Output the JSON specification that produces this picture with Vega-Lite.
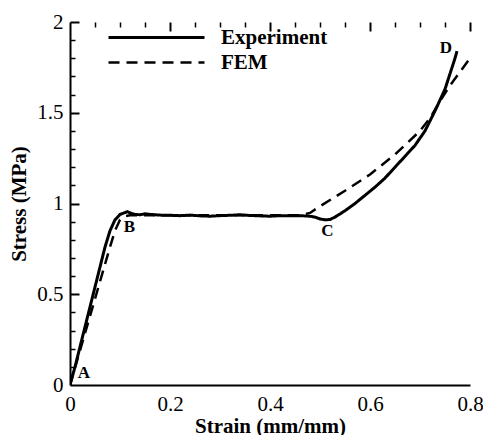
{
  "$schema": "https://vega.github.io/schema/vega-lite/v6.json",
  "width": 400,
  "height": 363,
  "autosize": {"type": "none"},
  "padding": {"left": 70, "top": 22, "right": 13, "bottom": 50},
  "config": {
    "view": {"stroke": null},
    "axis": {"grid": false}
  },
  "datasets": {
    "curves": [
      {"strain": 0, "stress": 0, "series": "Experiment"},
      {"strain": 0.01, "stress": 0.1, "series": "Experiment"},
      {"strain": 0.02, "stress": 0.21, "series": "Experiment"},
      {"strain": 0.03, "stress": 0.32, "series": "Experiment"},
      {"strain": 0.04, "stress": 0.43, "series": "Experiment"},
      {"strain": 0.05, "stress": 0.54, "series": "Experiment"},
      {"strain": 0.06, "stress": 0.65, "series": "Experiment"},
      {"strain": 0.07, "stress": 0.76, "series": "Experiment"},
      {"strain": 0.08, "stress": 0.85, "series": "Experiment"},
      {"strain": 0.09, "stress": 0.91, "series": "Experiment"},
      {"strain": 0.1, "stress": 0.94, "series": "Experiment"},
      {"strain": 0.11, "stress": 0.95, "series": "Experiment"},
      {"strain": 0.115, "stress": 0.955, "series": "Experiment"},
      {"strain": 0.12, "stress": 0.948, "series": "Experiment"},
      {"strain": 0.13, "stress": 0.94, "series": "Experiment"},
      {"strain": 0.14, "stress": 0.938, "series": "Experiment"},
      {"strain": 0.15, "stress": 0.943, "series": "Experiment"},
      {"strain": 0.16, "stress": 0.94, "series": "Experiment"},
      {"strain": 0.18, "stress": 0.936, "series": "Experiment"},
      {"strain": 0.2, "stress": 0.935, "series": "Experiment"},
      {"strain": 0.22, "stress": 0.933, "series": "Experiment"},
      {"strain": 0.24, "stress": 0.936, "series": "Experiment"},
      {"strain": 0.26, "stress": 0.932, "series": "Experiment"},
      {"strain": 0.28, "stress": 0.93, "series": "Experiment"},
      {"strain": 0.3, "stress": 0.933, "series": "Experiment"},
      {"strain": 0.32, "stress": 0.935, "series": "Experiment"},
      {"strain": 0.34, "stress": 0.938, "series": "Experiment"},
      {"strain": 0.36, "stress": 0.934, "series": "Experiment"},
      {"strain": 0.38, "stress": 0.932, "series": "Experiment"},
      {"strain": 0.4, "stress": 0.93, "series": "Experiment"},
      {"strain": 0.42, "stress": 0.933, "series": "Experiment"},
      {"strain": 0.44, "stress": 0.932, "series": "Experiment"},
      {"strain": 0.46, "stress": 0.933, "series": "Experiment"},
      {"strain": 0.48, "stress": 0.93, "series": "Experiment"},
      {"strain": 0.49, "stress": 0.925, "series": "Experiment"},
      {"strain": 0.5, "stress": 0.915, "series": "Experiment"},
      {"strain": 0.51, "stress": 0.91, "series": "Experiment"},
      {"strain": 0.52, "stress": 0.912, "series": "Experiment"},
      {"strain": 0.53, "stress": 0.925, "series": "Experiment"},
      {"strain": 0.55, "stress": 0.96, "series": "Experiment"},
      {"strain": 0.57, "stress": 1.0, "series": "Experiment"},
      {"strain": 0.59, "stress": 1.045, "series": "Experiment"},
      {"strain": 0.61, "stress": 1.09, "series": "Experiment"},
      {"strain": 0.63, "stress": 1.14, "series": "Experiment"},
      {"strain": 0.65, "stress": 1.2, "series": "Experiment"},
      {"strain": 0.67, "stress": 1.26, "series": "Experiment"},
      {"strain": 0.69, "stress": 1.32, "series": "Experiment"},
      {"strain": 0.71, "stress": 1.4, "series": "Experiment"},
      {"strain": 0.73, "stress": 1.51, "series": "Experiment"},
      {"strain": 0.75, "stress": 1.63, "series": "Experiment"},
      {"strain": 0.77, "stress": 1.8, "series": "Experiment"},
      {"strain": 0.774, "stress": 1.84, "series": "Experiment"},
      {"strain": 0, "stress": 0, "series": "FEM"},
      {"strain": 0.01, "stress": 0.095, "series": "FEM"},
      {"strain": 0.02, "stress": 0.19, "series": "FEM"},
      {"strain": 0.03, "stress": 0.285, "series": "FEM"},
      {"strain": 0.04, "stress": 0.38, "series": "FEM"},
      {"strain": 0.05, "stress": 0.475, "series": "FEM"},
      {"strain": 0.06, "stress": 0.57, "series": "FEM"},
      {"strain": 0.07, "stress": 0.665, "series": "FEM"},
      {"strain": 0.08, "stress": 0.76, "series": "FEM"},
      {"strain": 0.09, "stress": 0.85, "series": "FEM"},
      {"strain": 0.1, "stress": 0.91, "series": "FEM"},
      {"strain": 0.11, "stress": 0.93, "series": "FEM"},
      {"strain": 0.12, "stress": 0.935, "series": "FEM"},
      {"strain": 0.3, "stress": 0.935, "series": "FEM"},
      {"strain": 0.46, "stress": 0.935, "series": "FEM"},
      {"strain": 0.48, "stress": 0.948, "series": "FEM"},
      {"strain": 0.5, "stress": 0.985, "series": "FEM"},
      {"strain": 0.55, "stress": 1.07, "series": "FEM"},
      {"strain": 0.6, "stress": 1.16, "series": "FEM"},
      {"strain": 0.65, "stress": 1.27, "series": "FEM"},
      {"strain": 0.7, "stress": 1.4, "series": "FEM"},
      {"strain": 0.72, "stress": 1.47, "series": "FEM"},
      {"strain": 0.74, "stress": 1.565, "series": "FEM"},
      {"strain": 0.76, "stress": 1.65, "series": "FEM"},
      {"strain": 0.78, "stress": 1.725, "series": "FEM"},
      {"strain": 0.8, "stress": 1.8, "series": "FEM"}
    ],
    "points": [
      {"strain": 0.028, "stress": 0.066, "label": "A"},
      {"strain": 0.119, "stress": 0.868, "label": "B"},
      {"strain": 0.515, "stress": 0.848, "label": "C"},
      {"strain": 0.752, "stress": 1.854, "label": "D"}
    ]
  },
  "layer": [
    {
      "data": {"name": "points"},
      "mark": {"type": "point", "opacity": 0},
      "encoding": {
        "x": {"field": "strain", "type": "quantitative", "scale": {"domain": [0, 0.8], "nice": false},
          "axis": {"orient": "bottom", "values": [0.05, 0.1, 0.15, 0.25, 0.3, 0.35, 0.45, 0.5, 0.55, 0.65, 0.7, 0.75], "labels": false, "domain": false, "ticks": false, "grid": true, "gridColor": "black", "gridOpacity": 1, "gridWidth": 1.5, "gridDash": [5, 1000], "title": null}},
        "y": {"field": "stress", "type": "quantitative", "scale": {"domain": [0, 2], "nice": false},
          "axis": {"orient": "left", "values": [0.1, 0.2, 0.3, 0.4, 0.6, 0.7, 0.8, 0.9, 1.1, 1.2, 1.3, 1.4, 1.6, 1.7, 1.8, 1.9], "labels": false, "domain": false, "ticks": false, "grid": true, "gridColor": "black", "gridOpacity": 1, "gridWidth": 1.5, "gridDash": [5, 1000], "title": null}}
      }
    },
    {
      "data": {"name": "points"},
      "mark": {"type": "text", "font": "Liberation Serif", "fontSize": 17, "fontWeight": "bold", "color": "black", "align": "center", "baseline": "middle"},
      "encoding": {
        "x": {"field": "strain", "type": "quantitative", "scale": {"domain": [0, 0.8], "nice": false},
          "axis": {"orient": "bottom", "values": [0.2, 0.4, 0.6, 0.8], "labels": false, "domain": false, "ticks": false, "grid": true, "gridColor": "black", "gridOpacity": 1, "gridWidth": 2, "gridDash": [9, 1000], "title": null}},
        "y": {"field": "stress", "type": "quantitative", "scale": {"domain": [0, 2], "nice": false},
          "axis": {"orient": "left", "values": [0.5, 1, 1.5, 2], "labels": false, "domain": false, "ticks": false, "grid": true, "gridColor": "black", "gridOpacity": 1, "gridWidth": 2, "gridDash": [9, 1000], "title": null}},
        "text": {"field": "label", "type": "nominal"}
      }
    },
    {
      "data": {"name": "curves"},
      "mark": {"type": "line", "color": "black", "clip": true},
      "encoding": {
        "x": {"field": "strain", "type": "quantitative", "scale": {"domain": [0, 0.8], "nice": false},
          "axis": {"orient": "bottom", "values": [0, 0.2, 0.4, 0.6, 0.8], "format": "~g", "ticks": false, "domainWidth": 2, "domainColor": "black", "labelColor": "black", "labelFont": "Liberation Serif", "labelFontSize": 21, "labelPadding": 8, "labelFlush": false, "title": "Strain (mm/mm)", "titleColor": "black", "titleFont": "Liberation Serif", "titleFontSize": 21, "titleFontWeight": "bold", "titleBaseline": "alphabetic", "titleY": 47}},
        "y": {"field": "stress", "type": "quantitative", "scale": {"domain": [0, 2], "nice": false},
          "axis": {"orient": "left", "values": [0, 0.5, 1, 1.5, 2], "format": "~g", "ticks": false, "domainWidth": 2, "domainColor": "black", "labelColor": "black", "labelFont": "Liberation Serif", "labelFontSize": 21, "labelPadding": 7, "labelFlush": false, "title": "Stress (MPa)", "titleColor": "black", "titleFont": "Liberation Serif", "titleFontSize": 21, "titleFontWeight": "bold", "titleBaseline": "alphabetic", "titleX": -45}},
        "strokeDash": {"field": "series", "type": "nominal",
          "scale": {"domain": ["Experiment", "FEM"], "range": [[1, 0], [11, 7]]},
          "legend": {"orient": "none", "legendX": 37, "legendY": 4, "title": null, "symbolType": "stroke", "symbolSize": 9216, "symbolStrokeColor": "black", "symbolStrokeWidth": 2.5, "labelFont": "Liberation Serif", "labelFontSize": 21, "labelFontWeight": "bold", "labelColor": "black", "clipHeight": 23, "rowPadding": 2, "labelOffset": 15, "padding": 0}},
        "strokeWidth": {"field": "series", "type": "nominal", "scale": {"domain": ["Experiment", "FEM"], "range": [3, 2.5]}, "legend": null}
      }
    }
  ],
  "resolve": {"axis": {"x": "independent", "y": "independent"}}
}
